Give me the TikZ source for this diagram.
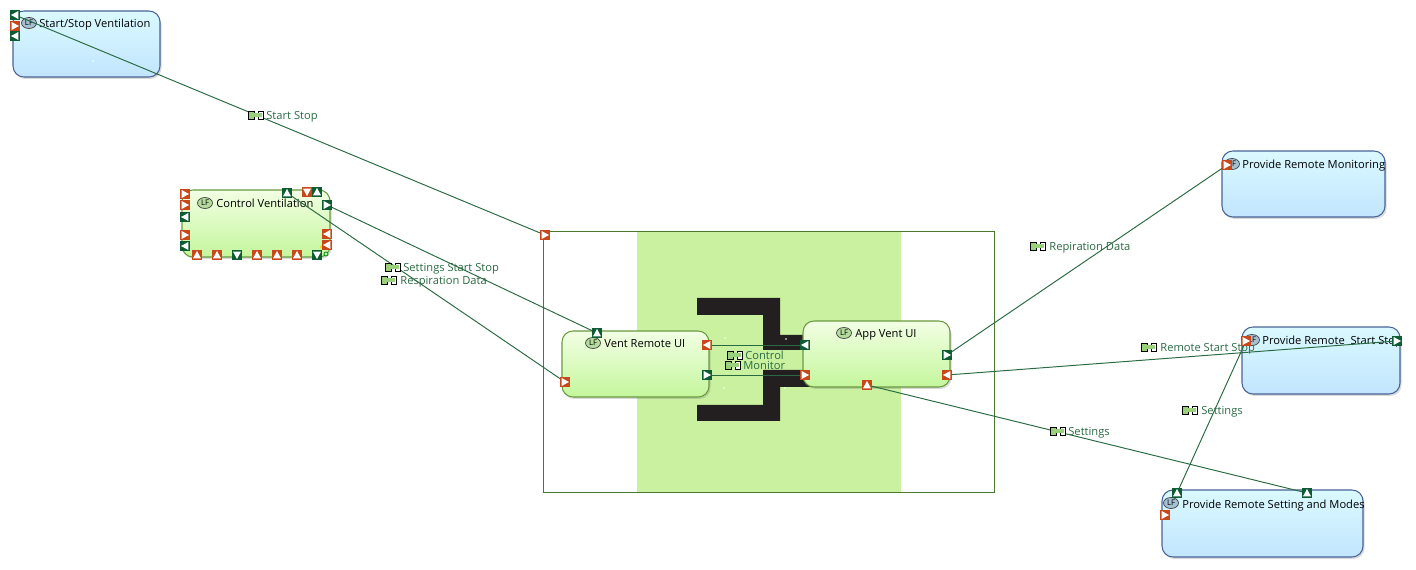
\documentclass[tikz,border=0pt]{standalone}
\usepackage{fontspec}
\setmainfont{Open Sans}
\usetikzlibrary{shapes.geometric,shadows}
\pgfdeclarelayer{portlayer}
\pgfsetlayers{main,portlayer}
\definecolor{portred}{HTML}{C9481B}
\definecolor{portgreen}{HTML}{0E5C34}
\definecolor{flowgreen}{HTML}{2A6A42}
\definecolor{bandgreen}{HTML}{C9F1A0}
\definecolor{barblack}{HTML}{231F20}
\definecolor{blueedge}{HTML}{4A6396}
\definecolor{bluetop}{HTML}{DAF9FF}
\definecolor{bluebot}{HTML}{C2E5FE}
\definecolor{greenedge}{HTML}{6A9A3E}
\definecolor{greentop}{HTML}{F2FFE4}
\definecolor{greenbot}{HTML}{C4F69C}
\definecolor{frameedge}{HTML}{4C7A2C}
\definecolor{iconfill}{HTML}{9AD07C}
\definecolor{badgeblue}{HTML}{A5C0D2}
\definecolor{badgegreen}{HTML}{B4DC9C}
\def\px{0.02cm}
\tikzset{
  softshadow/.style={drop shadow={opacity=0.3,shadow xshift=0.03cm,shadow yshift=-0.04cm}},
  bluebox/.style={draw=blueedge,line width=0.6pt,rounded corners=0.22cm,top color=bluetop,bottom color=bluebot,softshadow},
  greenbox/.style={draw=greenedge,line width=0.6pt,rounded corners=0.22cm,top color=greentop,bottom color=greenbot,softshadow},
  badge/.style={ellipse,draw=black!75,line width=0.4pt,inner sep=0pt,minimum width=15*\px,minimum height=11*\px,font=\fontsize{4.4}{5}\selectfont},
  bluebadge/.style={badge,fill=badgeblue},
  greenbadge/.style={badge,fill=badgegreen},
  boxtext/.style={anchor=base west,inner sep=0pt,font=\fontsize{6.35}{8}\selectfont},
  flowtext/.style={anchor=base west,inner sep=0pt,text=flowgreen,font=\fontsize{6.35}{8}\selectfont},
  port/.style={rectangle,inner sep=0pt,outer sep=0pt,minimum size=10*\px,fill=#1},
  flowicon/.style={rectangle,inner sep=0pt,minimum width=17*\px,minimum height=10*\px,
    path picture={\begin{scope}[shift={(path picture bounding box.center)}]
      \filldraw[fill=iconfill,draw=black,line width=0.45pt] (-7.5*\px,-4*\px) rectangle (-2*\px,4*\px);
      \filldraw[fill=white,draw=black,line width=0.45pt] (2*\px,-4*\px) rectangle (7.5*\px,4*\px);
      \fill[iconfill] (-2*\px,-2*\px) rectangle (5.5*\px,2*\px);
      \end{scope}}},
  flowline/.style={draw=flowgreen,line width=0.55pt},
}
\begin{document}
\begin{tikzpicture}[x=0.02cm,y=-0.02cm]
\useasboundingbox (0,0) rectangle (1416,570);

% Riquadro centrale con la fascia verde
\fill[bandgreen] (637,231) rectangle (901,492);
\draw[draw=frameedge,line width=0.5pt] (543,231) rectangle (994,492);

% Sagome nere dietro i blocchi
\fill[barblack] (697,298) -- (780,298) -- (780,335) -- (810,335) -- (810,350) -- (763,350) -- (763,315) -- (697,315) -- cycle;
\fill[barblack] (763,370) -- (810,370) -- (810,387) -- (780,387) -- (780,421) -- (697,421) -- (697,405) -- (763,405) -- cycle;

% Blocchi azzurri
\foreach \name/\xa/\ya/\xb/\yb in {startbox/13/11/160/77,monitorbox/1222/151/1385/217,
    remotebox/1242/327/1400/394,settingbox/1162/490/1363/557}
  \node[bluebox,minimum width={(\xb-\xa)*\px},minimum height={(\yb-\ya)*\px}] (\name) at ({(\xa+\xb)/2},{(\ya+\yb)/2}) {};

% Blocchi verdi
\foreach \name/\xa/\ya/\xb/\yb in {controlbox/182/190/330/257,ventbox/562/331/709/397,appbox/803/321/950/387}
  \node[greenbox,minimum width={(\xb-\xa)*\px},minimum height={(\yb-\ya)*\px}] (\name) at ({(\xa+\xb)/2},{(\ya+\yb)/2}) {};

% Etichette LF e nomi dei blocchi
\foreach \name/\x/\y/\tx/\txt in {start/29/23/39/{Start/Stop Ventilation},monitor/1232/164/1242/Provide Remote Monitoring,
    remote/1252/340/1262/Provide Remote\ \ Start Stop,setting/1171/503/1182/Provide Remote Setting and Modes}{
  \node[bluebadge] (\name badge) at (\x,\y) {LF};
  \node[boxtext] (\name text) at (\tx,\y+5) {\txt};
}
\foreach \name/\x/\y/\tx/\txt in {control/205/203/216/Control Ventilation,vent/593/343/604/Vent Remote UI,app/844/333/855/App Vent UI}{
  \node[greenbadge] (\name badge) at (\x,\y) {LF};
  \node[boxtext] (\name text) at (\tx,\y+5) {\txt};
}

% Porte: sopra le linee
\begin{pgfonlayer}{portlayer}
\foreach \name/\x/\y/\col/\ang in {
    startA/15/15/portgreen/180,startB/15/26/portred/0,startC/15/36/portgreen/180,
    ctlA/185/194/portred/0,ctlB/185/205/portred/0,ctlC/185/217/portgreen/180,ctlD/185/235/portred/0,ctlE/185/246/portgreen/180,
    ctlF/287/193/portgreen/90,ctlG/307/192/portred/270,ctlH/317/192/portgreen/90,ctlI/327/205/portgreen/0,
    ctlJ/327/234/portred/180,ctlK/327/245/portred/180,
    ctlL/197/255/portred/90,ctlM/217/255/portred/90,ctlN/237/255/portgreen/270,ctlO/257/255/portred/90,
    ctlP/277/255/portred/90,ctlQ/297/255/portred/90,ctlR/317/255/portgreen/270,
    frameA/545/235/portred/0,
    ventA/597/333/portgreen/90,ventB/565/382/portred/0,ventC/707/345/portred/180,ventD/707/375/portgreen/0,
    appA/805/345/portgreen/180,appB/805/375/portred/0,appC/867/385/portred/90,appD/947/355/portgreen/0,appE/947/375/portred/180,
    monA/1227/165/portred/0,remA/1246/341/portred/0,remB/1397/341/portgreen/0,
    setA/1177/493/portgreen/90,setB/1307/493/portgreen/90,setC/1165/515/portred/0}{
  \node[port=\col] (\name) at (\x,\y) {};
  \fill[white] ([shift={(\ang:4*\px)}]\name.center) -- ([shift={(\ang+130:5.2*\px)}]\name.center) -- ([shift={(\ang-130:5.2*\px)}]\name.center) -- cycle;
}
\end{pgfonlayer}

% Iconcine in basso a destra nel blocco Control Ventilation
\fill[yellow!80!orange] (322,247) circle (2);
\fill[blue!60!cyan] (320,254) circle (2);
\draw[green!50!black,fill=green!30] (326,254) circle (2);

% Punti bianchi
\foreach \x/\y in {93/61,725/338,724/388,786/339,785/388}
  \fill[white] (\x,\y) circle (0.8);

% Connessioni
\draw[flowline] (startA) -- (frameA);
\draw[flowline] (ctlI) -- (ventA);
\draw[flowline] (ctlF) -- (ventB);
\draw[flowline] (ventC) -- (appA);
\draw[flowline] (ventD) -- (appB);
\draw[flowline] (appD) -- (monA);
\draw[flowline] (appE) -- (remB);
\draw[flowline] (appC) -- (setB);
\draw[flowline] (setA) -- (remA);

% Nomi dei flussi
\foreach \name/\x/\y/\tx/\txt in {startstop/256/115/266/Start Stop,settingsflow/393/267/403/Settings Start Stop,
    respflow/389/280/400/Respiration Data,ctlflow/735/355/745/Control,monflow/733/365/743/Monitor,
    repflow/1038/246/1049/Repiration Data,remflow/1149/347/1160/Remote Start Stop,
    setflowA/1190/410/1201/Settings,setflowB/1058/431/1068/Settings}{
  \node[flowicon] (\name icon) at (\x,\y) {};
  \node[flowtext] (\name) at (\tx,\y+4.5) {\txt};
}
\end{tikzpicture}
\end{document}
